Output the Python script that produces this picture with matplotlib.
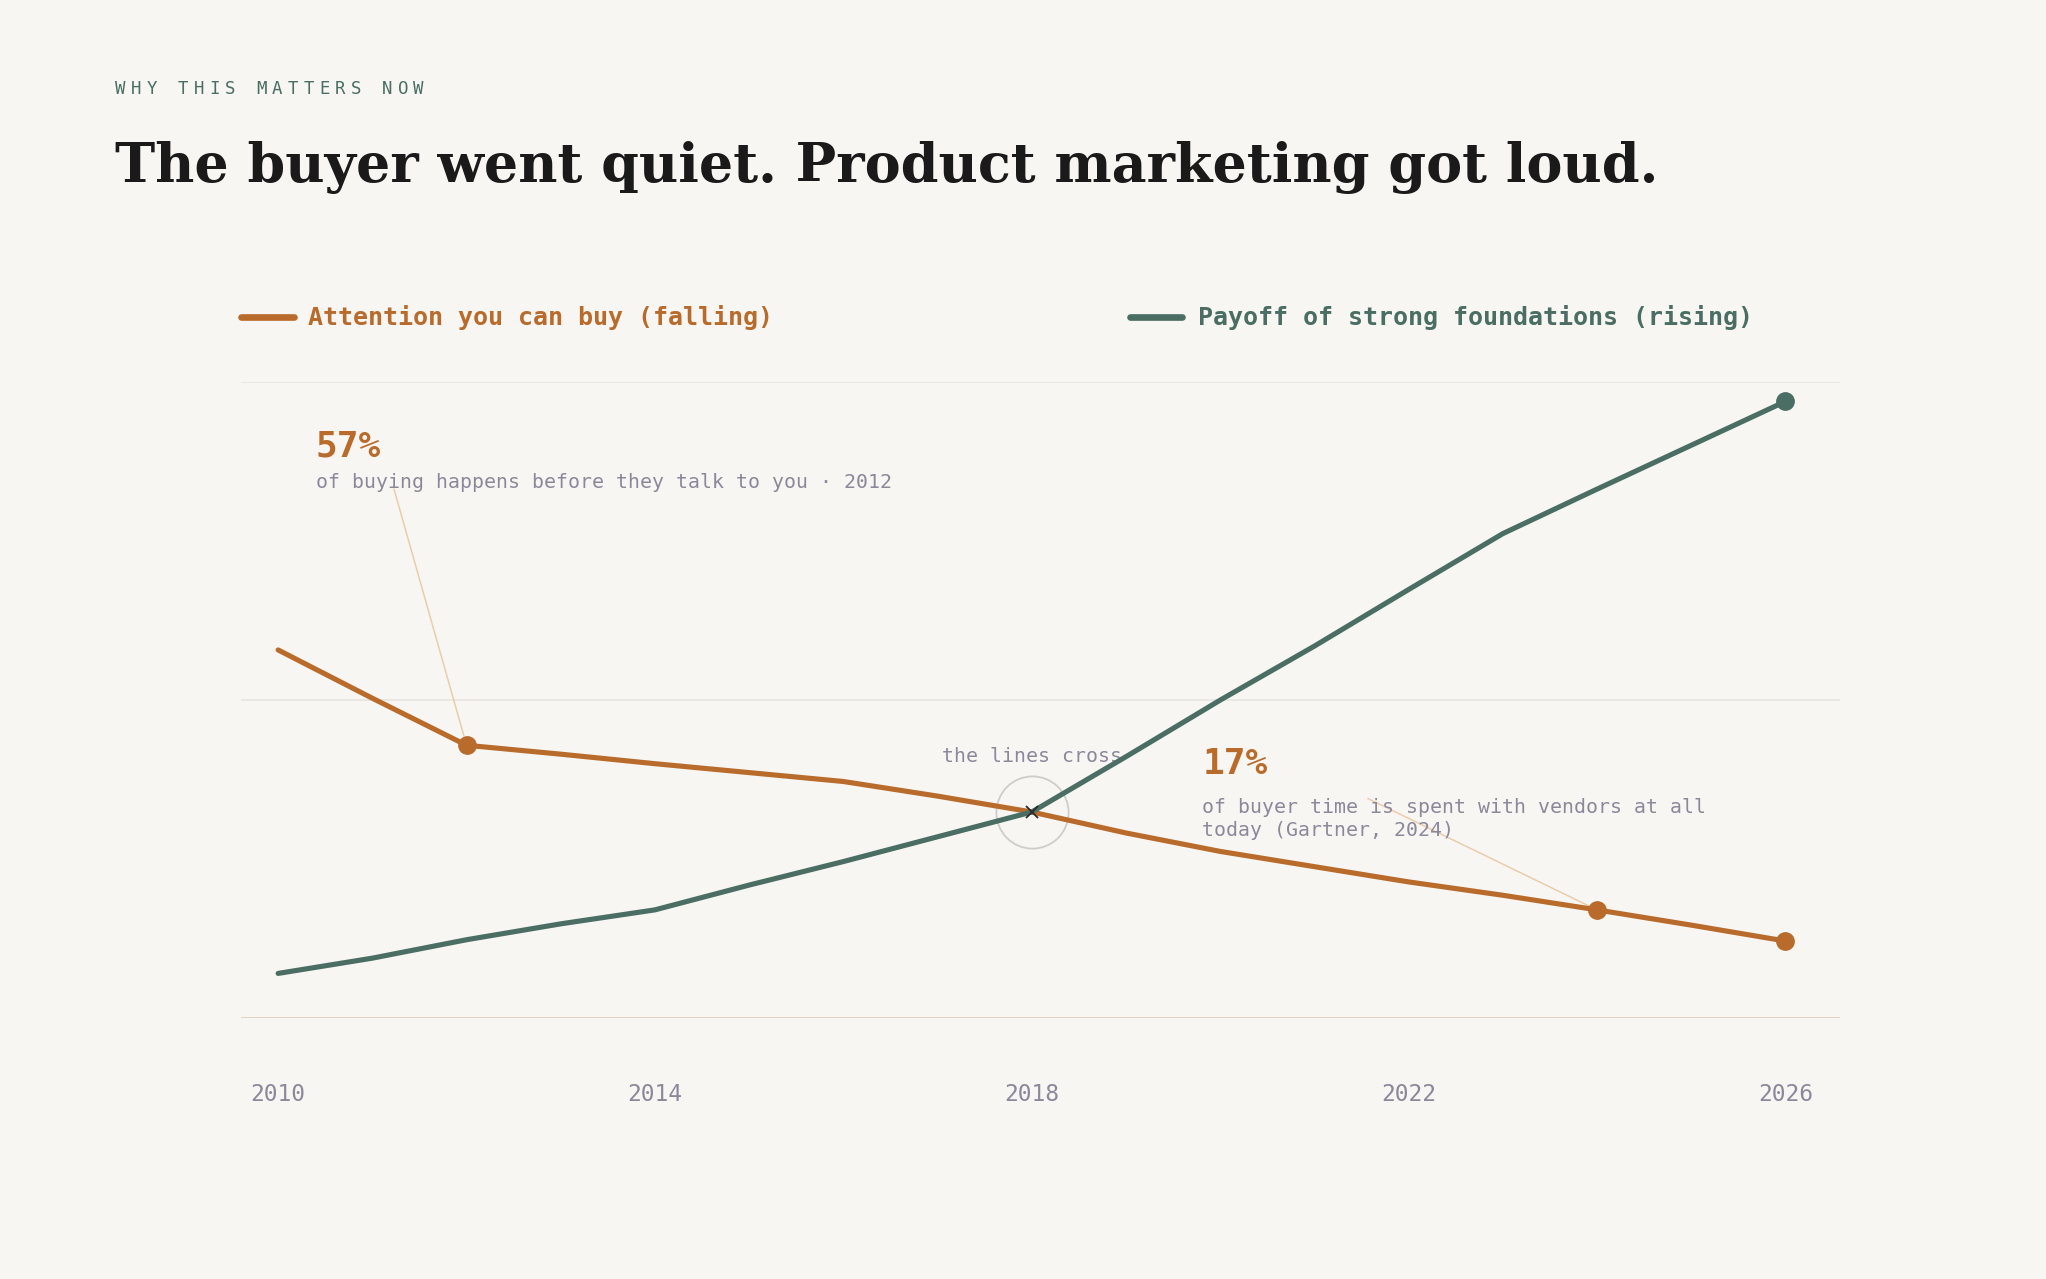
import matplotlib
matplotlib.use("Agg")
import matplotlib.pyplot as plt
from matplotlib.lines import Line2D

# --- data (index, 0-100) ---
years = list(range(2010, 2027))
attention = [57.9, 50.3, 42.9, 41.5, 40.0, 38.6, 37.2, 34.9, 32.4,
             29.1, 26.2, 23.8, 21.4, 19.3, 17.0, 14.6, 12.1]
payoff = [7.0, 9.4, 12.3, 14.8, 17.0, 20.9, 24.6, 28.5, 32.4,
          41.1, 50.0, 58.5, 67.4, 76.2, 83.2, 90.1, 97.0]
attention_marked = [2012, 2024, 2026]
payoff_marked = [2026]
tick_years = [2010, 2014, 2018, 2022, 2026]
cross_year = 2018

series_labels = ["Attention you can buy (falling)", "Payoff of strong foundations (rising)"]
eyebrow = "WHY THIS MATTERS NOW"
title = "The buyer went quiet. Product marketing got loud."
note_a_value, note_a_text = "57%", "of buying happens before they talk to you \u00b7 2012"
note_b_value, note_b_text = "17%", "of buyer time is spent with vendors at all\ntoday (Gartner, 2024)"
cross_text = "the lines cross"

# --- style ---
BG = "#f7f6f3"
ORANGE = "#b96b2c"
GREEN = "#4a6e64"
GREY = "#8b889a"
INK = "#1b1a1a"
LEADER = "#ebcdaa"
MONO = "DejaVu Sans Mono"

W, H = 2046, 1279
fig = plt.figure(figsize=(W / 100, H / 100), dpi=100, facecolor=BG)


def fx(px):
    return px / W


def fy(py):
    return 1 - py / H


# eyebrow, letter spaced by hand
adv = 15.7
for i, ch in enumerate(eyebrow):
    fig.text(fx(115 + i * adv), fy(89), ch, color=GREEN, fontsize=12.5,
             family=MONO, va="center", ha="left")

# title, fitted to the reference width
t = fig.text(fx(115), fy(182), title, color=INK, fontsize=40,
             family="DejaVu Serif", fontweight="bold", va="baseline", ha="left")
r = fig.canvas.get_renderer()
w = t.get_window_extent(renderer=r).width
t.set_fontsize(40 * 1540 / w)

# legend drawn by hand
for (x0, x1, xt), col, lab in zip([(241, 294, 308), (1130, 1182, 1198)],
                                  [ORANGE, GREEN], series_labels):
    fig.add_artist(Line2D([fx(x0), fx(x1)], [fy(317), fy(317)], color=col,
                          lw=4.8, solid_capstyle="round", transform=fig.transFigure))
    fig.text(fx(xt), fy(317), lab, color=col, fontsize=18, family=MONO,
             fontweight="bold", va="center", ha="left")

# --- chart ---
ax = fig.add_axes([fx(241.4), fy(1017.9), fx(1840) - fx(241.4), fy(382.4) - fy(1017.9)])
ax.set_facecolor("none")
ax.set_xlim(2009.61, 2026.58)
ax.set_ylim(0, 100)
for s in ax.spines.values():
    s.set_visible(False)
ax.set_yticks([])
ax.axhline(100, color="#e7e3de", lw=1.1, zorder=1)
ax.axhline(50, color="#e7e3de", lw=1.1, zorder=1)
ax.axhline(0, color="#dccab3", lw=1.1, zorder=1)

ax.plot(years, attention, color=ORANGE, lw=3.7, solid_joinstyle="round",
        solid_capstyle="round", marker="o", ms=12.5,
        markevery=[years.index(y) for y in attention_marked], zorder=4, clip_on=False)
ax.plot(years, payoff, color=GREEN, lw=3.7, solid_joinstyle="round",
        solid_capstyle="round", marker="o", ms=12.5,
        markevery=[years.index(y) for y in payoff_marked], zorder=5, clip_on=False)

# crossing marker
ci = years.index(cross_year)
cy = attention[ci]
ax.plot([cross_year], [cy], marker="o", ms=52, mfc="none", mec="#cfcdcb",
        mew=1.3, zorder=3)
ax.plot([cross_year], [cy], marker="x", ms=9, mec="#2a2a2a", mew=1.3, zorder=6)
ax.text(cross_year, 41.1, cross_text, color=GREY, fontsize=14.3, family=MONO,
        ha="center", va="center", zorder=2)

# annotation: 57%
ax.text(2010.40, 89.9, note_a_value, color=ORANGE, fontsize=26, family=MONO,
        fontweight="bold", ha="left", va="center", zorder=6)
ax.text(2010.40, 84.2, note_a_text, color=GREY, fontsize=14.3, family=MONO,
        ha="left", va="center", zorder=6)
ax.plot([2011.23, 2012], [83.2, attention[years.index(2012)]], color=LEADER,
        lw=1.1, zorder=2)

# annotation: 17%
ax.text(2019.81, 40.0, note_b_value, color=ORANGE, fontsize=26, family=MONO,
        fontweight="bold", ha="left", va="center", zorder=6)
ax.text(2019.81, 31.3, note_b_text, color=GREY, fontsize=14.3, family=MONO,
        ha="left", va="center", linespacing=1.3, zorder=6)
ax.plot([2021.57, 2024], [34.5, attention[years.index(2024)]], color=LEADER,
        lw=1.1, zorder=2)

ax.set_xticks(tick_years)
ax.set_xticklabels([str(y) for y in tick_years], family=MONO, fontsize=16.5, color=GREY)
ax.tick_params(axis="x", length=0, pad=47)

fig.savefig("out.png", dpi=100, facecolor=BG)
